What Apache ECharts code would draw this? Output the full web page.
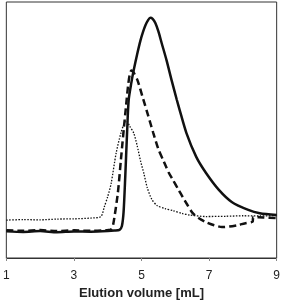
<!DOCTYPE html>
<html>
<head>
<meta charset="utf-8">
<script src="https://cdn.jsdelivr.net/npm/echarts@6/dist/echarts.min.js"></script>
<style>html,body{margin:0;padding:0;background:#fff}#c{width:283px;height:305px}</style>
</head>
<body>
<div id="c"></div>
<script>
var xTicks = [1, 3, 5, 7, 9];
var axisTitle = 'Elution volume [mL]';

var solidX = [1.0, 1.5, 2.0, 2.5, 3.0, 3.5, 4.0, 4.2, 4.35, 4.42, 4.47, 4.52, 4.57, 4.62, 4.7, 4.77, 4.87, 4.97, 5.05, 5.12, 5.2, 5.26, 5.33, 5.41, 5.5, 5.6, 5.74, 5.89, 6.04, 6.13, 6.33, 6.62, 6.91, 7.29, 7.67, 8.16, 8.5, 9.0];
var solidY = [10.4, 10.2, 10.5, 10.1, 10.4, 10.3, 10.5, 10.7, 11.0, 12.5, 18, 32, 48, 61.7, 68.5, 73.4, 79.5, 85, 88.5, 91, 93, 93.8, 93.4, 91.8, 88.5, 83.8, 77.3, 69.5, 62, 57.8, 48.8, 39.5, 33.2, 26.6, 21.9, 18.8, 17.5, 16.8];

var dashX = [1.0, 1.5, 2.0, 2.5, 3.0, 3.5, 4.0, 4.1, 4.16, 4.3, 4.39, 4.48, 4.54, 4.6, 4.65, 4.7, 4.76, 4.88, 5.03, 5.2, 5.35, 5.5, 5.64, 5.8, 5.93, 6.08, 6.22, 6.37, 6.51, 6.7, 6.91, 7.15, 7.38, 7.6, 7.87, 8.05, 8.25, 8.29, 8.31, 8.6, 9.0];
var dashY = [10.8, 10.6, 10.9, 10.5, 10.8, 10.6, 10.9, 11.2, 12.9, 25.4, 38.3, 51, 59, 67, 71.5, 73.2, 72.6, 69.5, 63, 55.5, 48.8, 42.5, 38.3, 33.5, 30.5, 27, 23.8, 20.5, 17.6, 15.5, 14, 12.8, 12.1, 12.3, 12.9, 13.5, 14, 14.2, 16, 15.8, 15.6];

var dotX = [1.0, 1.5, 2.0, 2.5, 3.0, 3.5, 3.8, 3.9, 4.0, 4.1, 4.25, 4.39, 4.5, 4.56, 4.65, 4.77, 4.87, 4.97, 5.07, 5.17, 5.3, 5.46, 5.7, 5.93, 6.2, 6.42, 6.91, 7.5, 8.0, 8.5, 9.0];
var dotY = [14.8, 15.0, 14.9, 15.2, 15.3, 15.6, 16.2, 20, 24, 29, 41, 48.8, 53, 53.5, 51.5, 48.8, 44, 38, 33, 27.5, 23, 20.5, 19.3, 18.5, 17.4, 16.8, 16.2, 16.3, 16.5, 16.4, 16.6];

function pairs(xs, ys) { return xs.map(function (x, i) { return [x, ys[i]]; }); }

var chart = echarts.init(document.getElementById('c'), null, {renderer: 'canvas'});
chart.setOption({
  animation: false,
  backgroundColor: '#fff',
  grid: {left: 3, right: 4, top: 2, bottom: 47, show: true, borderColor: '#333', borderWidth: 1, containLabel: false},
  xAxis: {
    type: 'value', min: xTicks[0], max: xTicks[xTicks.length - 1], interval: 2,
    name: axisTitle, nameLocation: 'middle', nameGap: 29,
    nameTextStyle: {fontFamily: 'Liberation Sans', fontWeight: 'bold', fontSize: 13, color: '#222'},
    axisLine: {show: true, lineStyle: {color: '#333', width: 1}},
    axisTick: {show: true, inside: false, length: 3, lineStyle: {color: '#888'}},
    axisLabel: {margin: 12, fontFamily: 'Liberation Sans', fontSize: 12, color: '#222'},
    splitLine: {show: false}
  },
  yAxis: {
    type: 'value', min: 0, max: 100,
    axisLine: {show: false}, axisTick: {show: false}, axisLabel: {show: false}, splitLine: {show: false}
  },
  series: [
    {type: 'line', data: pairs(dotX, dotY), showSymbol: false, smooth: 0.25, lineStyle: {color: '#111', width: 1.3, type: [1.5, 1.5]}},
    {type: 'line', data: pairs(dashX, dashY), showSymbol: false, smooth: 0.25, lineStyle: {color: '#111', width: 2.5, type: [7, 4]}},
    {type: 'line', data: pairs(solidX, solidY), showSymbol: false, smooth: 0.25, lineStyle: {color: '#111', width: 2.5}}
  ]
});
</script>
</body>
</html>
